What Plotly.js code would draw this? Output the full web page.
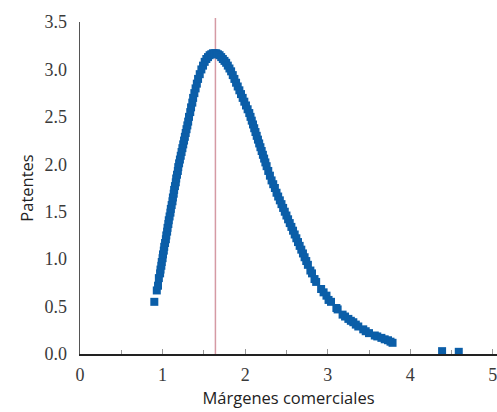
<!DOCTYPE html>
<html>
<head>
<meta charset="utf-8">
<script src="https://cdn.plot.ly/plotly-3.0.1.min.js"></script>
<style>html,body{margin:0;padding:0;background:#fff;}#chart{width:497px;height:412px;}</style>
</head>
<body>
<div id="chart"></div>
<script>
// Márgenes comerciales (x)
var margenes = [
  0.90,0.93,0.945,0.955,0.97,0.975,0.985,0.99,1.00,1.005,1.015,1.02,1.03,1.04,1.045,1.055,1.06,1.07,1.075,1.085,
  1.095,1.10,1.11,1.12,1.125,1.135,1.14,1.15,1.16,1.165,1.175,1.185,1.19,1.20,1.21,1.22,1.23,1.24,1.25,1.26,
  1.27,1.28,1.29,1.30,1.31,1.32,1.335,1.345,1.36,1.37,1.385,1.40,1.415,1.43,1.45,1.47,1.49,1.51,1.53,1.55,
  1.57,1.59,1.61,1.63,1.65,1.67,1.69,1.71,
  1.73,1.75,1.77,1.79,1.81,1.83,1.85,1.87,1.89,1.91,1.93,1.95,1.97,1.99,2.01,2.03,2.05,2.065,2.08,2.095,
  2.11,2.125,2.14,2.155,2.17,2.185,2.20,2.215,2.23,2.245,2.26,2.28,2.30,2.32,2.34,2.36,2.38,2.40,2.42,2.44,
  2.46,2.48,2.50,2.52,2.54,2.56,2.58,2.60,2.62,2.64,2.66,2.68,2.70,2.72,2.74,2.76,
  2.79,2.81,2.84,2.86,2.92,2.95,2.985,3.01,3.04,3.105,3.12,3.18,3.21,3.25,3.28,3.31,3.34,3.37,3.43,3.46,
  3.50,3.57,3.60,3.65,3.69,3.73,3.76,3.785,4.385,4.587
];
// Patentes (y)
var patentes = [
  0.55,0.67,0.72,0.80,0.85,0.89,0.93,0.97,1.01,1.05,1.09,1.13,1.17,1.21,1.25,1.29,1.33,1.37,1.41,1.45,
  1.49,1.53,1.57,1.61,1.65,1.69,1.73,1.77,1.81,1.85,1.89,1.93,1.97,2.01,2.05,2.09,2.13,2.17,2.21,2.25,
  2.29,2.33,2.37,2.41,2.45,2.50,2.55,2.60,2.65,2.70,2.75,2.80,2.85,2.90,2.95,3.00,3.04,3.08,3.11,3.13,
  3.15,3.16,3.17,3.17,3.17,3.16,3.15,3.13,
  3.11,3.09,3.07,3.04,3.01,2.98,2.94,2.90,2.86,2.82,2.78,2.74,2.70,2.66,2.62,2.58,2.54,2.50,2.46,2.42,
  2.38,2.34,2.30,2.26,2.22,2.18,2.14,2.10,2.06,2.02,1.98,1.93,1.88,1.83,1.79,1.75,1.70,1.66,1.62,1.58,
  1.54,1.50,1.46,1.42,1.38,1.34,1.30,1.26,1.22,1.18,1.14,1.10,1.06,1.02,0.98,0.94,
  0.88,0.85,0.79,0.76,0.685,0.65,0.615,0.57,0.55,0.485,0.47,0.415,0.395,0.37,0.35,0.335,0.31,0.29,0.26,0.24,
  0.22,0.195,0.185,0.17,0.155,0.145,0.13,0.118,0.03,0.023
];
var referencia = 1.64;
var xTicks = [0,1,2,3,4,5];
var xTickText = ['0','1','2','3','4','5'];

var serifFamily = '"Liberation Serif", "DejaVu Serif", "Times New Roman", serif';
function serifFont() { return {family: serifFamily, size: 18, color: '#3a3a3a'}; }
function sansFont() { return {family: 'Open Sans', size: 16.5, color: '#222'}; }

Plotly.newPlot('chart', [{
  type: 'scatter', mode: 'markers',
  x: margenes, y: patentes,
  marker: {symbol: 'square', size: 8, color: '#0b5ea8', line: {width: 0}},
  cliponaxis: false,
  hoverinfo: 'skip'
}], {
  width: 497, height: 412,
  margin: {l: 80, r: 0, t: 22, b: 57.5},
  paper_bgcolor: '#fff', plot_bgcolor: '#fff',
  font: {family: serifFamily, size: 18, color: '#333'},
  showlegend: false,
  xaxis: {
    range: [0, 5.05], showgrid: false, zeroline: false,
    showline: true, linecolor: '#222', linewidth: 1.5,
    tickvals: xTicks, ticktext: xTickText,
    ticks: 'inside', ticklen: 5, tickcolor: '#999', tickwidth: 1,
    minor: {dtick: 0.5, ticks: 'inside', ticklen: 4, tickcolor: '#999', showgrid: false},
    tickfont: serifFont(), ticklabelstandoff: 4, ticklabeloverflow: 'allow',
    title: {text: 'Márgenes comerciales', font: sansFont(), standoff: 8}
  },
  yaxis: {
    range: [0, 3.5], showgrid: false, zeroline: false,
    showline: true, linecolor: '#555', linewidth: 1.5,
    dtick: 0.5, tickformat: '.1f', ticks: '',
    tickfont: serifFont(), ticklabelstandoff: 8,
    title: {text: 'Patentes', font: sansFont(), standoff: 6}
  },
  shapes: [{
    type: 'line', xref: 'x', yref: 'paper',
    x0: referencia, x1: referencia, y0: 0, y1: 1.012,
    line: {color: '#d59aa4', width: 1.5}, layer: 'below'
  }]
}, {staticPlot: true, displayModeBar: false});
</script>
</body>
</html>
